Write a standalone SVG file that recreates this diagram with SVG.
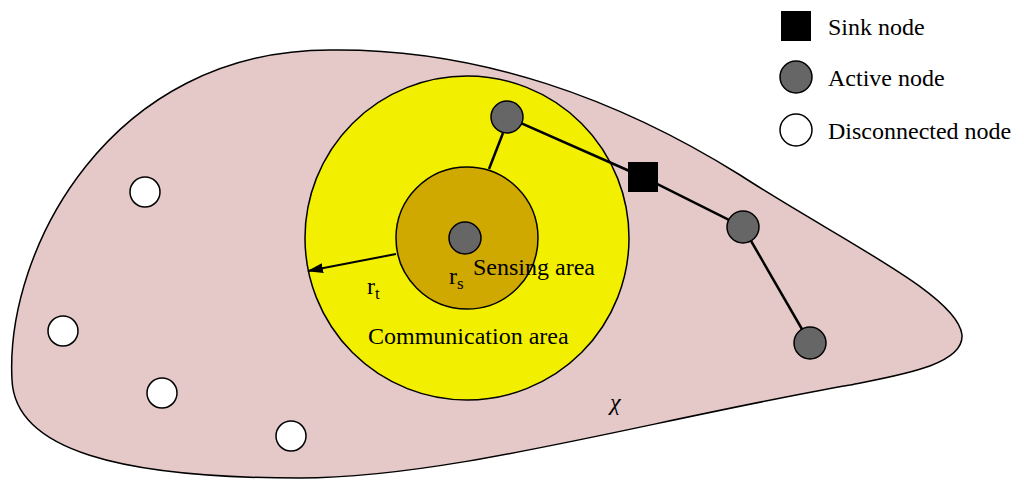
<svg xmlns="http://www.w3.org/2000/svg" width="1024" height="489" viewBox="0 0 1024 489">
<style>
text{font-family:"Liberation Serif",serif;font-size:24px;fill:#000}
.a{fill:#666;stroke:#000;stroke-width:1.5}
.d{fill:#fff;stroke:#000;stroke-width:1.5}
.c{stroke:#000;stroke-width:2.5;fill:none}
</style>
<defs><marker id="ar" markerWidth="16" markerHeight="10" refX="15" refY="5" orient="auto" markerUnits="userSpaceOnUse"><path d="M0,0 L16,5 L0,10 Z"/></marker></defs>
<path d="M12,380 C5,250 110,50 330,50 C480,48 620,100 740,175 C840,240 958,295 962,335 C964,365 900,375 850,385 C650,420 450,478 300,478 C120,478 15,450 12,380 Z" fill="#e5c8c8" stroke="#000" stroke-width="1.5"/>
<circle cx="467" cy="238" r="162" fill="#f2f000" stroke="#000" stroke-width="1.5"/>
<circle cx="467" cy="238" r="71" fill="#cfa800" stroke="#000" stroke-width="1.5"/>
<g id="connectors">
<path class="c" d="M507,117 L643,177 L743,227 L810,343"/>
<path class="c" d="M503,133 L489,169"/>
<path stroke="#000" stroke-width="2" d="M396,254 L308,271" marker-end="url(#ar)"/>
</g>
<g id="n0"><circle class="a" cx="465" cy="238" r="16"/></g>
<g id="n1"><circle class="a" cx="507" cy="117" r="16"/></g>
<g id="n2"><circle class="a" cx="743" cy="227" r="16"/></g>
<g id="n3"><circle class="a" cx="810" cy="343" r="16"/></g>
<g id="sink"><rect x="628" y="162" width="30" height="30"/></g>
<g id="d1"><circle class="d" cx="145" cy="192" r="15"/></g>
<g id="d2"><circle class="d" cx="63" cy="331" r="15"/></g>
<g id="d3"><circle class="d" cx="162" cy="393" r="15"/></g>
<g id="d4"><circle class="d" cx="291" cy="436" r="15"/></g>
<text x="367" y="294">r<tspan font-size="17" dy="5">t</tspan></text>
<text x="449" y="284">r<tspan font-size="17" dy="5">s</tspan></text>
<text x="473" y="275">Sensing area</text>
<text x="368" y="344">Communication area</text>
<text x="610" y="410" font-style="italic" font-size="30">χ</text>
<g id="legend">
<rect x="781" y="11" width="30" height="30"/>
<text x="828" y="35">Sink node</text>
<circle class="a" cx="796" cy="77" r="16"/>
<text x="828" y="86">Active node</text>
<circle class="d" cx="796" cy="130" r="16"/>
<text x="828" y="139">Disconnected node</text>
</g>
</svg>
